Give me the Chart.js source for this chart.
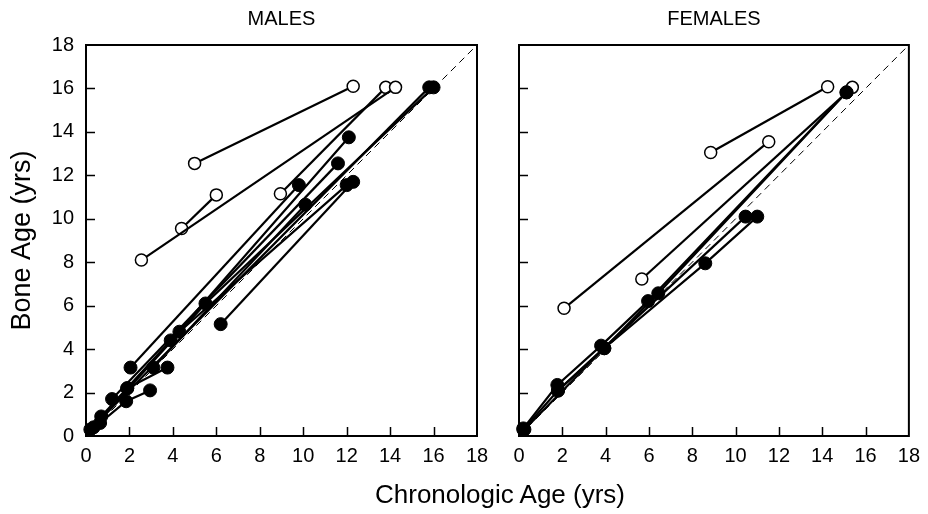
<!DOCTYPE html>
<html><head><meta charset="utf-8">
<script src="https://cdn.jsdelivr.net/npm/chart.js@4.4.0/dist/chart.umd.min.js"></script>
<style>
html,body{margin:0;padding:0;background:#fff;}
#wrap{position:relative;width:928px;height:514px;overflow:hidden;}
canvas{position:absolute;top:0;}
#m{left:0;}
#f{left:500px;}
#xt{position:absolute;left:250px;width:500px;top:479px;text-align:center;font:26px "Liberation Sans",Arial,sans-serif;line-height:30px;color:#000;}
</style>
</head><body>
<div id="wrap">
<canvas id="m" width="500" height="514"></canvas>
<canvas id="f" width="428" height="514"></canvas>
<div id="xt">Chronologic Age (yrs)</div>
</div>
<script>
// ---- data (Chronologic Age, Bone Age) per patient track ----
const tickValues = [0,2,4,6,8,10,12,14,16,18];
const identityLine = [[0,0],[18,18]];

const maleOpen = [
  [[5.0,12.55],[12.3,16.1]],
  [[2.55,8.1],[14.25,16.05]],
  [[4.4,9.55],[6.0,11.1]],
  [[8.95,11.15],[13.8,16.05]]
];
const maleFilled = [
  [[0.2,0.3],[15.8,16.05]],
  [[0.35,0.4],[5.5,6.1],[16.0,16.05]],
  [[0.7,0.9],[3.9,4.4],[12.1,13.75]],
  [[1.2,1.7],[11.6,12.55]],
  [[2.05,3.15],[9.8,11.55]],
  [[1.9,2.2],[4.3,4.8],[12.0,11.55]],
  [[0.65,0.6],[1.85,1.6],[2.95,2.1]],
  [[1.9,2.2],[3.75,3.15]],
  [[3.1,3.15],[10.1,10.65]],
  [[6.2,5.15],[12.3,11.7]]
];
const femaleOpen = [
  [[8.85,13.05],[14.25,16.08]],
  [[2.08,5.88],[11.53,13.55]],
  [[5.67,7.23],[15.39,16.05]]
];
const femaleFilled = [
  [[0.2,0.35],[1.77,2.35],[3.79,4.16],[5.96,6.21],[15.12,15.82]],
  [[0.25,0.3],[3.94,4.04],[6.43,6.57],[15.12,15.82]],
  [[0.2,0.3],[1.8,2.09],[3.94,4.04],[8.6,7.95],[11.0,10.1]],
  [[1.8,2.09],[10.46,10.1]]
];

const FONT = '"Liberation Sans", Arial, sans-serif';

function toPts(arr){ return arr.map(p => ({x:p[0], y:p[1]})); }

function buildDatasets(openTracks, filledTracks){
  const ds = [];
  filledTracks.forEach(t => ds.push({
    data: toPts(t), showLine: true, borderColor:'#000', borderWidth:2.2,
    pointRadius:6.5, pointBackgroundColor:'#000', pointBorderColor:'#000', pointBorderWidth:1
  }));
  openTracks.forEach(t => ds.push({
    data: toPts(t), showLine: true, borderColor:'#000', borderWidth:2.2,
    pointRadius:6, pointBackgroundColor:'#fff', pointBorderColor:'#000', pointBorderWidth:1.5
  }));
  ds.push({
    data: toPts(identityLine), showLine:true, borderColor:'#000', borderWidth:1,
    borderDash:[7,5], pointRadius:0
  });
  return ds;
}

const framePlugin = {
  id:'frame',
  beforeDatasetsDraw(chart, args, opts){
    const {ctx, chartArea:a, scales} = chart;
    const x = scales.x, y = scales.y;
    ctx.save();
    ctx.strokeStyle = '#000';
    ctx.lineWidth = 2;
    ctx.strokeRect(a.left, a.top, a.right - a.left, a.bottom - a.top);
    ctx.lineWidth = 1.5;
    ctx.beginPath();
    tickValues.forEach(v => {
      if (v === 0 || v === 18) return;
      const px = Math.round(x.getPixelForValue(v)) + 0.5;
      ctx.moveTo(px, a.bottom); ctx.lineTo(px, a.bottom - 9);
      const py = Math.round(y.getPixelForValue(v)) + 0.5;
      ctx.moveTo(a.left, py); ctx.lineTo(a.left + 9, py);
    });
    ctx.stroke();
    ctx.fillStyle = '#000';
    ctx.font = '20px ' + FONT;
    ctx.textAlign = 'center';
    ctx.textBaseline = 'middle';
    ctx.fillText(opts.text, (a.left + a.right) / 2 + (opts.dx || 0), 19);
    ctx.restore();
  }
};

function makeChart(id, openTracks, filledTracks, isMale){
  return new Chart(document.getElementById(id), {
    type: 'scatter',
    data: { datasets: buildDatasets(openTracks, filledTracks) },
    plugins: [framePlugin],
    options: {
      responsive:false, animation:false, devicePixelRatio:1,
      clip:false,
      layout:{ padding: isMale ? {left:0,right:23,top:45,bottom:48} : {left:19,right:16,top:45,bottom:48} },
      plugins:{
        legend:{display:false}, tooltip:{enabled:false},
        frame:{ text: isMale ? 'MALES' : 'FEMALES' }
      },
      scales:{
        x:{
          type:'linear', min:0, max:18,
          afterBuildTicks: s => { s.ticks = tickValues.map(v => ({value:v})); },
          ticks:{ font:{family:FONT,size:20}, color:'#000', padding:8, maxRotation:0, autoSkip:false },
          grid:{display:false, drawTicks:false}, border:{display:false},
          afterFit: s => { s.height = 30; }
        },
        y:{
          type:'linear', min:0, max:18,
          afterBuildTicks: s => { s.ticks = tickValues.map(v => ({value:v})); },
          ticks:{ display:isMale, font:{family:FONT,size:20}, color:'#000', padding:12, autoSkip:false },
          grid:{display:false, drawTicks:false}, border:{display:false},
          title:{ display:isMale, text:'Bone Age (yrs)', color:'#000', font:{family:FONT,size:27}, padding:{top:6,bottom:0} },
          afterFit: s => { s.width = isMale ? 86 : 0; }
        }
      }
    }
  });
}

makeChart('m', maleOpen, maleFilled, true);
makeChart('f', femaleOpen, femaleFilled, false);
</script>
</body></html>
